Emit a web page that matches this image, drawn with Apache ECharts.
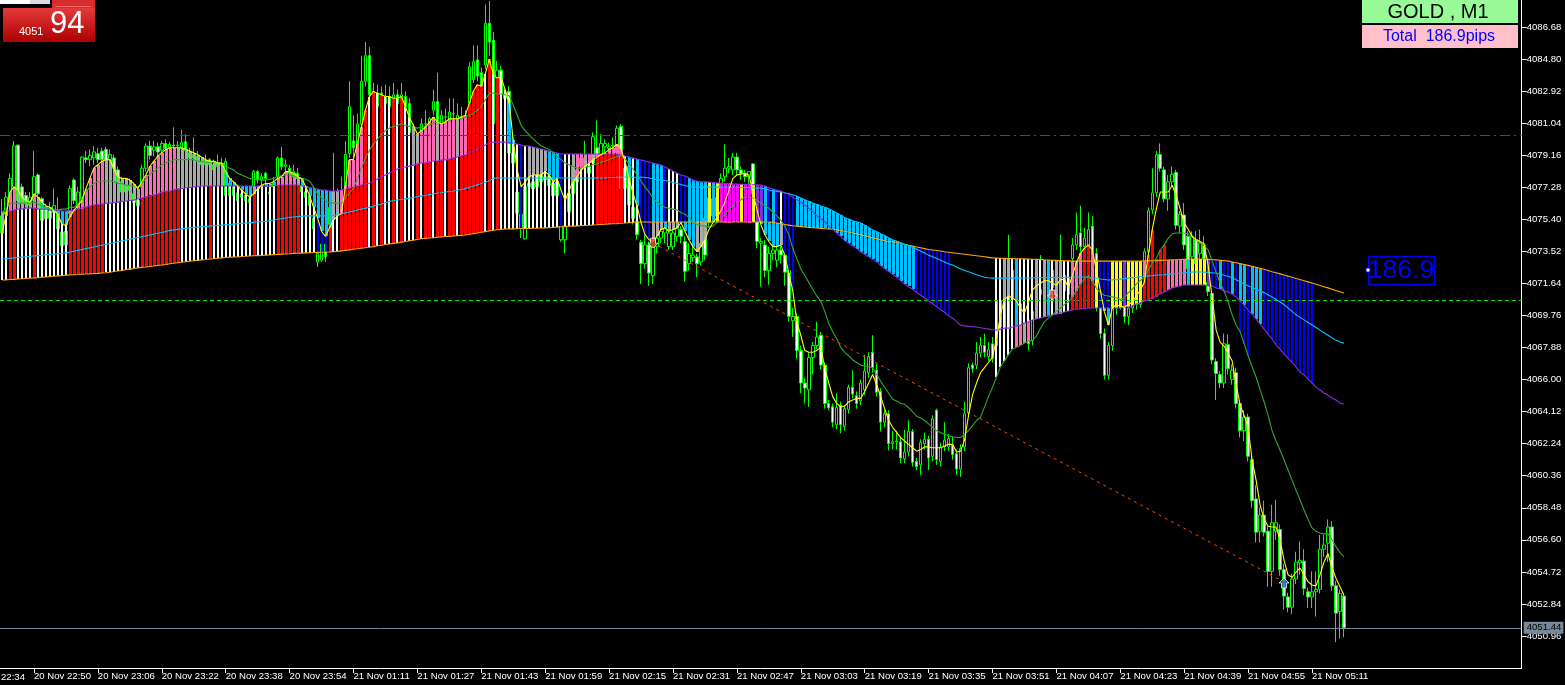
<!DOCTYPE html>
<html><head><meta charset="utf-8">
<style>html,body{margin:0;padding:0;background:#000;overflow:hidden}#c{width:1565px;height:685px}</style>
<script src="https://cdn.jsdelivr.net/npm/echarts@6/dist/echarts.min.js"></script>
</head><body><div id="c"></div>
<script>
const PRICE_BASE = 4000;
const tickLabels = ["20 Nov 22:50","20 Nov 23:06","20 Nov 23:22","20 Nov 23:38","20 Nov 23:54","21 Nov 01:11","21 Nov 01:27","21 Nov 01:43","21 Nov 01:59","21 Nov 02:15","21 Nov 02:31","21 Nov 02:47","21 Nov 03:03","21 Nov 03:19","21 Nov 03:35","21 Nov 03:51","21 Nov 04:07","21 Nov 04:23","21 Nov 04:39","21 Nov 04:55","21 Nov 05:11"];
const priceTicks = [4086.68,4084.80,4082.92,4081.04,4079.16,4077.28,4075.40,4073.52,4071.64,4069.76,4067.88,4066.00,4064.12,4062.24,4060.36,4058.48,4056.60,4054.72,4052.84,4050.96];
const resistanceLevel = 4080.34, supportLevel = 4070.66, bidPrice = 4051.44;

// candles: open, close, high, low (minus PRICE_BASE), 16 per row
const candles = [
[75.6,74.6,76.6,74.2],[75.7,76.7,77.0,75.0],[76.6,77.8,78.1,76.4],[77.3,79.7,80.0,77.0],[79.75,76.5,79.8,76.2],[77.3,76.3,77.5,76.0],[76.8,76.3,77.0,75.9],[76.2,76.7,77.0,75.9],[76.5,77.9,79.4,76.3],[78.0,76.9,78.1,76.7],[76.6,75.35,76.7,75.1],[76.1,75.45,76.3,75.3],[75.45,75.9,76.4,75.3],[75.8,76.2,77.2,75.6],[75.9,74.85,76.7,74.6],[74.65,73.85,75.0,73.7],
[74.7,73.9,74.9,73.8],[75.75,77.2,77.4,75.5],[77.7,76.5,77.8,76.3],[76.1,77.0,77.3,75.9],[76.5,79.05,79.1,76.3],[79.0,78.9,79.4,78.7],[78.9,79.15,79.5,78.5],[79.0,79.35,79.7,78.6],[79.25,78.9,79.6,78.7],[79.4,78.9,79.6,78.2],[79.5,78.9,79.65,78.5],[78.9,79.2,79.5,78.4],[79.0,78.4,79.2,77.6],[78.3,77.6,78.5,77.2],[77.6,77.0,77.9,76.6],[77.0,77.4,77.8,76.6],
[77.1,77.4,77.8,76.6],[76.9,76.4,77.2,76.0],[76.5,76.2,76.8,75.8],[77.3,78.4,78.6,77.1],[78.4,79.7,79.85,78.2],[79.7,79.15,80.0,78.9],[79.45,79.65,80.0,79.1],[79.65,79.35,79.9,79.0],[79.45,79.85,80.0,79.2],[79.85,79.55,80.1,79.3],[79.6,79.8,79.95,79.5],[79.75,79.7,80.8,79.5],[79.7,79.75,80.0,79.4],[79.55,79.9,80.65,79.3],[79.95,79.45,80.4,79.0],[79.3,79.0,79.6,78.7],
[79.0,79.2,80.2,78.7],[79.1,78.8,79.4,78.5],[78.8,78.6,79.0,78.3],[78.6,78.9,79.2,78.3],[78.9,78.6,79.0,78.1],[78.6,78.3,78.9,78.0],[78.7,78.5,79.2,78.2],[78.6,78.7,79.0,78.2],[76.8,78.8,79.0,76.6],[77.5,76.8,77.8,76.7],[76.8,77.3,77.6,76.5],[76.95,76.5,77.2,76.2],[76.7,76.9,77.3,76.4],[76.8,76.5,77.0,76.3],[76.6,76.4,76.8,76.1],[77.3,78.2,78.3,76.7],
[78.2,77.7,78.3,77.5],[77.7,77.9,78.1,77.3],[78.1,77.8,78.2,77.0],[77.0,76.9,77.4,76.6],[77.3,77.5,77.9,76.9],[77.9,79.0,79.1,77.6],[79.0,78.5,79.65,78.3],[78.5,78.6,78.9,78.2],[78.4,78.1,78.6,77.9],[77.9,78.2,78.6,77.6],[78.1,77.8,78.4,77.5],[77.4,77.0,77.7,76.7],[77.0,76.7,77.3,76.2],[76.8,76.2,77.0,75.6],[75.45,74.85,75.7,74.5],[72.9,73.4,74.0,72.6],
[73.0,73.95,75.0,72.9],[73.95,73.2,75.2,72.9],[75.1,76.1,76.4,74.0],[76.2,76.3,79.3,75.5],[75.6,76.3,77.2,75.2],[76.3,77.0,77.9,75.9],[77.1,79.2,80.0,76.9],[79.25,82.0,83.5,79.0],[80.0,79.6,81.5,79.0],[79.3,81.0,81.6,79.1],[81.0,83.5,85.0,80.5],[83.5,85.0,85.8,83.2],[85.0,82.7,85.5,82.4],[82.8,82.0,83.4,81.6],[82.0,82.8,83.3,81.4],[82.8,82.2,83.2,81.8],
[82.2,82.6,83.3,81.8],[82.6,82.0,83.2,81.6],[82.2,82.7,83.4,81.9],[82.7,82.2,83.0,81.7],[82.5,82.7,83.4,81.6],[82.6,82.0,82.9,81.5],[82.2,80.5,82.5,80.2],[80.5,80.2,81.0,79.8],[79.85,78.7,80.2,78.5],[79.3,81.0,81.3,79.0],[81.0,81.0,81.8,80.6],[81.0,81.3,81.4,80.5],[81.8,82.3,83.0,81.5],[82.3,81.0,84.0,80.8],[81.0,81.5,81.8,80.6],[81.4,81.4,81.9,80.9],
[81.3,81.7,82.5,81.0],[81.6,81.6,82.5,81.1],[81.2,81.5,82.2,80.9],[81.0,81.4,82.0,80.7],[81.1,81.5,81.8,80.9],[82.2,84.35,84.6,82.0],[83.6,84.65,85.6,83.4],[84.75,83.8,85.6,83.5],[84.0,82.5,84.3,82.2],[84.45,86.9,88.0,84.2],[86.9,85.8,88.2,85.0],[85.9,81.0,86.4,80.8],[83.7,84.15,84.7,83.0],[84.15,82.7,84.4,82.4],[82.7,82.5,83.1,82.0],[82.9,79.3,83.2,79.0],
[79.3,78.7,80.4,78.2],[75.75,77.0,77.5,75.5],[75.7,74.9,76.2,74.3],[74.25,77.3,77.8,74.2],[77.3,77.5,78.0,76.5],[77.6,77.2,78.1,76.7],[77.3,78.0,78.6,77.0],[78.0,77.6,78.4,77.2],[77.7,77.9,78.3,77.2],[77.9,77.4,78.5,76.9],[77.5,76.8,77.8,76.0],[76.8,77.6,78.4,76.4],[74.2,75.0,75.4,74.1],[74.2,75.0,76.0,73.4],[75.85,76.9,77.2,75.6],[76.9,78.5,78.7,76.7],
[78.3,77.6,78.6,77.3],[78.5,79.0,79.3,78.2],[78.5,79.0,80.0,78.2],[78.5,78.1,78.7,77.9],[78.7,80.25,80.5,78.5],[79.6,79.1,81.2,78.7],[79.1,79.85,80.4,78.9],[79.65,79.85,80.1,79.3],[79.55,79.65,79.9,79.2],[79.7,79.75,80.2,79.4],[79.3,80.75,80.9,79.0],[80.85,77.2,81.0,77.0],[77.2,78.4,78.7,77.0],[78.5,76.25,78.7,76.0],[76.1,75.45,76.3,75.1],[75.25,74.5,75.4,74.2],
[74.05,72.8,74.2,71.6],[72.8,73.9,74.5,72.5],[73.9,72.25,74.1,71.5],[72.1,73.8,74.2,71.6],[73.8,74.3,74.8,73.4],[74.3,74.7,75.0,74.0],[74.6,74.85,75.0,74.0],[73.8,74.6,74.85,73.6],[73.8,74.6,74.85,73.6],[74.4,74.85,75.0,74.1],[74.8,74.4,75.0,74.0],[74.1,72.35,74.4,71.75],[72.8,73.4,74.0,72.4],[73.15,73.3,73.9,72.9],[73.2,72.8,73.4,72.0],[72.9,74.0,74.3,72.7],
[75.45,73.3,75.7,73.0],[75.2,76.65,76.9,74.9],[76.6,75.6,76.9,75.3],[75.6,76.7,77.1,75.4],[77.2,77.8,78.1,77.0],[77.9,78.4,79.8,77.6],[78.4,78.5,79.0,78.1],[78.3,79.05,79.3,78.0],[79.05,78.3,79.3,78.0],[78.3,78.1,78.5,77.7],[78.1,77.9,78.3,77.6],[77.9,78.2,78.2,76.9],[78.65,76.9,78.7,76.4],[75.25,74.1,75.5,73.7],[74.0,74.1,74.3,71.45],[73.9,72.4,74.2,72.0],
[72.4,73.4,73.8,71.55],[73.4,73.6,74.0,73.0],[73.0,73.6,73.9,72.6],[73.6,73.3,74.0,72.8],[73.3,72.3,73.5,71.5],[72.4,69.7,72.7,69.4],[69.45,69.7,70.2,68.5],[69.7,67.7,69.9,67.2],[67.7,65.8,68.0,65.2],[65.8,65.5,66.1,64.6],[65.4,67.3,67.6,64.4],[67.3,68.0,68.2,66.3],[68.0,68.5,69.4,67.8],[68.6,66.85,68.8,66.6],[66.85,64.6,67.0,64.3],[64.6,64.35,64.8,64.2],
[64.4,63.5,64.6,63.2],[63.35,64.35,65.2,63.1],[64.5,63.35,64.7,62.85],[63.25,64.3,64.5,63.0],[64.25,65.55,65.7,64.0],[65.55,65.15,66.55,64.9],[65.05,64.6,65.3,64.3],[64.75,65.8,66.0,64.5],[65.4,66.5,67.45,65.1],[66.4,67.35,67.6,66.1],[67.6,66.7,68.6,66.4],[66.55,65.25,66.95,65.0],[65.3,63.5,65.5,62.95],[63.5,64.0,64.2,63.2],[64.0,62.25,64.2,61.85],[62.25,62.35,63.0,61.9],
[62.35,62.4,63.0,61.9],[62.35,61.4,62.6,61.1],[61.35,61.75,63.05,61.1],[61.75,62.95,63.6,61.5],[62.95,61.15,63.1,60.9],[61.2,60.9,61.4,60.7],[61.0,62.3,62.5,60.4],[62.25,62.5,62.9,61.9],[62.5,61.4,62.7,60.7],[61.5,63.7,63.9,61.2],[64.2,61.3,64.3,61.0],[61.2,62.05,62.3,60.9],[62.05,62.45,63.5,61.8],[62.05,62.55,62.8,61.8],[62.15,61.6,62.65,61.3],[61.65,60.75,61.9,60.4],
[60.75,61.95,62.2,60.3],[62.05,64.0,64.7,61.8],[64.05,66.7,66.95,63.8],[66.85,66.65,67.0,66.4],[66.85,67.55,68.2,66.6],[67.55,68.0,68.5,67.3],[68.0,67.6,68.7,67.3],[67.35,67.75,68.2,67.1],[68.1,67.25,68.5,67.0],[68.0,70.6,70.9,67.8],[70.6,69.1,70.9,68.8],[69.5,71.0,71.4,69.2],[71.05,72.6,74.5,70.8],[72.4,70.8,72.8,70.5],[70.8,71.2,72.0,70.5],[70.45,68.7,70.8,68.4],
[68.7,69.2,70.0,68.3],[69.5,68.1,69.8,67.7],[68.3,70.0,70.4,68.0],[70.0,71.0,71.6,69.7],[71.0,71.3,73.3,70.6],[71.3,70.8,71.8,70.4],[70.8,72.4,72.8,70.5],[72.4,71.4,72.8,71.0],[71.4,71.7,72.3,71.0],[71.7,72.1,74.5,71.3],[72.1,71.2,72.4,71.0],[71.0,72.0,72.3,70.6],[73.1,73.9,74.3,72.8],[73.9,74.5,75.8,73.6],[74.6,73.8,76.2,73.5],[73.8,74.3,74.9,73.5],
[73.4,74.8,75.8,73.1],[75.0,73.4,75.6,73.1],[73.4,70.3,73.7,70.0],[70.2,68.7,70.5,68.4],[68.7,66.25,69.0,66.0],[66.25,68.0,68.2,66.0],[68.0,70.2,70.5,67.7],[70.2,70.8,71.5,69.8],[70.8,70.4,71.2,70.1],[70.3,69.7,70.6,69.3],[69.7,70.2,70.6,69.2],[70.2,70.8,71.2,69.9],[70.8,70.4,71.2,70.1],[70.4,72.0,72.4,70.2],[72.6,73.5,73.7,72.3],[73.5,75.9,76.1,73.2],
[75.95,76.95,78.4,75.7],[76.95,79.2,79.4,76.7],[79.2,78.4,79.85,78.2],[78.3,76.6,78.5,76.4],[76.6,77.6,78.0,75.9],[77.6,78.05,78.5,77.3],[78.15,75.05,78.3,74.8],[75.0,75.7,75.9,74.6],[75.65,73.9,76.35,73.6],[74.4,72.5,74.7,71.8],[73.2,74.4,74.7,72.5],[74.2,72.8,74.7,72.3],[73.4,74.0,74.8,73.0],[73.9,73.1,74.4,72.6],[71.7,71.15,72.3,70.9],[71.05,67.15,71.2,66.9],
[67.05,66.35,67.25,64.8],[66.3,65.8,66.5,65.5],[65.8,68.1,68.7,65.5],[68.05,66.65,68.65,66.3],[66.0,66.55,66.9,65.7],[66.4,64.6,66.7,64.3],[64.6,63.0,64.8,62.6],[63.0,63.8,64.2,62.4],[63.8,61.5,64.0,61.2],[61.3,58.9,61.5,58.5],[59.0,57.05,59.8,56.45],[57.1,58.05,58.5,56.45],[58.05,57.05,58.9,56.8],[57.1,54.75,57.4,53.85],[54.75,57.6,58.65,53.85],[57.1,57.6,58.95,56.6],
[57.2,54.85,57.5,54.5],[54.85,53.3,55.2,52.5],[53.25,52.65,53.5,52.35],[52.65,54.3,54.6,52.25],[54.3,55.3,55.9,54.0],[55.25,55.4,56.5,54.55],[55.35,53.75,56.05,53.35],[53.55,53.25,53.8,52.6],[53.25,53.55,54.75,52.6],[53.55,53.7,54.75,52.1],[53.7,56.05,56.9,53.45],[56.05,56.3,56.9,55.6],[56.4,57.35,57.8,55.3],[57.35,53.9,57.7,53.6],[53.9,52.3,54.2,50.6],[52.4,53.45,53.7,50.8],
[53.3,51.44,53.5,50.9]
];

const fastMA = [
74.6,75.6,77.0,77.3,77.1,76.7,76.5,76.4,76.9,76.7,76.4,76.2,76.1,75.9,75.7,75.1,
75.06,75.53,75.94,76.2,76.5,77.2,77.8,78.4,78.6,78.8,78.9,78.9,78.4,77.9,77.8,77.8,
77.7,77.5,77.2,77.6,78.0,78.5,78.8,79.1,79.3,79.5,79.6,79.6,79.6,79.6,79.5,79.4,
79.3,79.2,79.05,78.9,78.8,78.8,78.7,78.7,78.2,77.8,77.6,77.35,77.1,76.9,76.7,76.9,
77.2,77.4,77.5,77.5,77.6,77.8,77.9,78.2,78.2,78.1,77.9,77.8,77.35,76.8,76.1,75.5,
74.7,74.4,74.9,75.35,75.6,75.75,77.4,78.9,78.9,79.9,80.8,81.8,82.6,82.9,82.8,82.7,
82.6,82.6,82.5,82.5,82.6,82.0,81.4,80.9,80.4,80.6,80.8,81.1,81.4,81.1,81.0,81.1,
81.3,81.3,81.3,81.4,81.5,82.2,82.9,83.3,83.2,83.9,84.8,83.9,83.7,83.7,83.0,82.2,
80.05,78.3,77.3,77.6,77.9,78.0,78.0,78.0,78.2,78.0,77.6,77.8,77.1,76.5,77.1,77.6,
77.9,78.3,78.5,78.7,78.9,79.05,79.2,79.3,79.5,79.6,79.8,79.5,78.8,77.8,76.9,76.2,
75.2,74.5,74.2,74.1,74.4,74.8,74.9,74.7,74.8,74.9,75.2,74.7,74.2,73.8,73.5,73.8,
74.2,74.8,75.2,75.5,75.9,76.4,77.1,77.8,78.0,78.05,78.1,78.0,77.0,76.0,75.1,74.5,
74.1,73.8,73.8,73.9,73.3,72.25,71.2,69.4,68.6,67.7,67.6,67.6,67.7,67.9,66.7,65.8,
65.0,64.6,64.4,64.45,64.7,64.8,64.9,64.9,65.3,65.8,66.3,65.7,65.0,64.3,63.6,63.2,
62.9,62.6,62.4,62.2,62.0,61.8,61.9,62.05,62.05,62.0,62.0,62.0,62.1,62.2,62.2,61.75,
61.8,62.45,63.9,65.1,65.8,66.4,66.7,67.0,67.3,68.4,69.8,70.7,70.9,70.8,70.6,70.2,
69.9,70.55,71.25,71.5,71.65,71.8,71.8,71.65,71.55,71.85,71.9,71.4,72.1,72.85,73.4,73.7,
73.9,73.6,72.4,71.25,70.0,69.2,70.2,70.4,70.3,70.25,70.4,70.55,70.9,71.25,71.7,73.3,
74.8,76.0,77.0,77.0,77.0,77.4,76.8,76.0,75.2,74.8,74.4,74.2,74.1,73.95,72.7,70.8,
68.9,68.2,67.95,67.55,67.1,65.7,64.5,63.9,63.2,61.3,60.1,58.65,57.8,57.4,57.35,57.35,
56.6,55.4,54.55,54.4,54.7,54.95,54.55,54.15,53.95,53.9,54.55,55.3,55.8,54.95,54.35,53.85,
53.35];

const mediumMA = [
75.8,76.0,76.35,76.35,76.35,76.35,76.35,76.35,76.4,76.3,76.2,76.1,76.0,75.95,75.95,76.0,
76.0,76.1,76.1,76.3,76.65,77.0,77.3,77.5,77.6,77.65,77.65,77.65,77.6,77.5,77.5,77.4,
77.4,77.35,77.3,77.5,77.8,78.05,78.2,78.4,78.6,78.7,78.8,78.9,78.9,78.9,78.9,78.9,
78.9,78.8,78.8,78.75,78.75,78.75,78.75,78.7,78.5,78.4,78.3,78.1,78.0,77.9,77.8,77.75,
77.75,77.7,77.7,77.75,77.8,77.9,77.95,78.0,78.0,77.95,77.9,77.8,77.75,77.65,77.3,76.9,
76.65,76.5,76.35,76.35,76.35,76.35,76.65,76.95,77.2,77.8,78.4,79.0,79.45,79.8,80.1,80.35,
80.6,80.75,80.85,80.9,81.0,80.9,80.85,80.8,80.75,80.8,80.85,80.9,81.05,81.1,81.15,81.15,
81.2,81.3,81.3,81.3,81.4,81.5,81.6,81.8,82.0,82.4,82.8,82.8,82.75,82.75,82.7,82.65,
82.1,81.5,80.9,80.6,80.35,80.1,79.9,79.7,79.6,79.5,79.3,79.1,78.9,78.7,78.6,78.5,
78.4,78.4,78.45,78.5,78.6,78.65,78.75,78.8,78.9,79.0,79.1,79.15,78.95,78.65,78.35,78.0,
77.65,77.3,77.0,76.65,76.4,76.25,76.1,76.05,76.0,75.95,75.8,75.7,75.5,75.25,75.1,75.05,
75.0,74.95,75.0,75.2,75.4,75.7,75.95,76.2,76.35,76.55,76.7,76.7,76.65,76.55,76.35,76.2,
76.05,75.8,75.6,75.35,75.0,74.5,73.7,73.1,72.5,72.1,71.7,71.3,70.9,70.6,70.0,69.3,
68.8,68.4,67.9,67.6,67.4,67.15,67.0,66.85,66.8,66.75,66.7,66.3,65.9,65.55,65.2,64.85,
64.75,64.6,64.55,64.35,64.1,63.85,63.75,63.6,63.4,63.2,63.0,62.9,62.8,62.7,62.65,62.6,
62.6,62.8,63.0,63.3,63.6,63.8,64.4,65.0,65.55,66.15,66.75,67.1,67.45,67.8,67.9,68.0,
68.15,68.25,68.3,68.55,69.0,69.4,69.6,69.8,70.0,70.2,70.4,70.55,70.85,71.2,71.6,71.9,
72.1,71.8,71.35,71.1,70.95,70.9,70.85,70.8,70.7,70.8,71.1,71.3,71.6,71.8,72.0,72.4,
72.85,73.1,73.6,73.9,74.3,74.55,74.6,74.6,74.6,74.55,74.35,74.2,74.0,73.85,73.6,72.95,
72.3,71.65,71.2,70.55,69.8,69.2,68.8,68.1,67.4,66.75,66.15,65.4,64.7,63.9,63.0,62.4,
61.85,61.3,60.7,60.1,59.5,58.95,58.35,57.8,57.3,57.1,57.0,56.95,56.95,56.6,56.2,55.85,
55.6];

const purpleMA = [
75.83,75.89,75.89,75.94,76.0,76.0,76.06,76.06,76.06,76.0,76.0,76.0,75.94,75.94,75.94,75.89,
75.89,75.92,75.94,76.0,76.06,76.12,76.18,76.24,76.27,76.3,76.33,76.35,76.38,76.41,76.44,76.47,
76.5,76.53,76.59,76.65,76.71,76.77,76.82,76.88,77.0,77.03,77.06,77.12,77.18,77.21,77.24,77.27,
77.3,77.32,77.35,77.35,77.35,77.35,77.35,77.35,77.35,77.35,77.35,77.35,77.35,77.35,77.35,77.35,
77.35,77.35,77.35,77.35,77.38,77.38,77.41,77.41,77.41,77.41,77.41,77.35,77.29,77.26,77.24,77.18,
77.12,77.12,77.06,77.06,77.06,77.12,77.18,77.24,77.29,77.35,77.41,77.47,77.53,77.64,77.76,77.88,
78.0,78.12,78.23,78.35,78.41,78.47,78.52,78.58,78.64,78.7,78.7,78.76,78.82,78.82,78.88,78.88,
78.93,78.99,79.05,79.11,79.17,79.29,79.4,79.52,79.64,79.76,79.87,79.93,79.93,79.93,79.93,79.87,
79.87,79.81,79.76,79.7,79.7,79.64,79.58,79.52,79.46,79.4,79.35,79.29,79.23,79.23,79.23,79.23,
79.23,79.23,79.23,79.23,79.23,79.23,79.23,79.23,79.23,79.23,79.23,79.17,79.11,79.05,78.99,78.93,
78.88,78.82,78.76,78.7,78.64,78.58,78.47,78.35,78.23,78.12,78.0,77.94,77.82,77.7,77.64,77.6,
77.6,77.58,77.56,77.54,77.52,77.5,77.5,77.48,77.47,77.46,77.45,77.44,77.43,77.42,77.41,77.35,
77.24,77.18,77.12,77.06,76.95,76.85,76.7,76.55,76.4,76.22,76.05,75.85,75.6,75.45,75.25,75.0,
74.8,74.6,74.4,74.15,74.0,73.85,73.68,73.5,73.35,73.2,73.05,72.9,72.7,72.5,72.35,72.18,
72.0,71.8,71.6,71.45,71.3,71.12,70.95,70.8,70.62,70.45,70.28,70.1,69.95,69.75,69.6,69.4,
69.2,69.15,69.12,69.1,69.08,69.04,69.0,68.96,68.92,68.9,68.96,69.02,69.02,69.08,69.14,69.2,
69.32,69.37,69.49,69.55,69.61,69.67,69.73,69.79,69.84,69.9,69.96,70.02,70.08,70.14,70.14,70.17,
70.2,70.2,70.2,70.2,70.2,70.2,70.2,70.2,70.2,70.26,70.26,70.31,70.43,70.49,70.61,70.67,
70.78,70.9,71.02,71.13,71.25,71.37,71.43,71.49,71.55,71.55,71.55,71.55,71.55,71.55,71.49,71.49,
71.37,71.31,71.19,71.13,71.02,70.84,70.61,70.37,70.08,69.84,69.55,69.26,68.96,68.67,68.38,68.03,
67.79,67.5,67.26,67.03,66.74,66.44,66.27,66.03,65.8,65.56,65.39,65.21,65.09,64.92,64.8,64.62,
64.57];

const cyanMA = [
73.07,73.09,73.12,73.14,73.16,73.18,73.2,73.23,73.25,73.27,73.29,73.32,73.34,73.36,73.38,73.41,
73.43,73.48,73.53,73.58,73.63,73.68,73.73,73.78,73.83,73.88,73.93,73.98,74.03,74.08,74.13,74.18,
74.23,74.28,74.33,74.38,74.43,74.48,74.53,74.58,74.63,74.68,74.75,74.78,74.81,74.84,74.87,74.9,
74.92,74.94,74.96,74.98,75.0,75.02,75.04,75.06,75.08,75.1,75.12,75.14,75.16,75.18,75.2,75.22,
75.24,75.26,75.28,75.32,75.36,75.4,75.44,75.48,75.52,75.54,75.56,75.58,75.6,75.6,75.6,75.6,
75.6,75.6,75.6,75.63,75.68,75.73,75.78,75.83,75.88,75.95,76.0,76.05,76.1,76.17,76.24,76.3,
76.37,76.44,76.5,76.53,76.56,76.6,76.64,76.68,76.72,76.76,76.8,76.85,76.9,76.93,76.96,77.0,
77.03,77.06,77.1,77.15,77.2,77.27,77.35,77.42,77.5,77.57,77.65,77.8,77.82,77.82,77.82,77.82,
77.82,77.82,77.82,77.82,77.82,77.82,77.82,77.82,77.82,77.82,77.82,77.82,77.82,77.82,77.82,77.82,
77.82,77.82,77.82,77.82,77.82,77.82,77.82,77.82,77.85,77.85,77.87,77.87,77.88,77.88,77.88,77.85,
77.88,77.85,77.82,77.78,77.74,77.7,77.68,77.62,77.56,77.5,77.44,77.38,77.32,77.3,77.3,77.29,
77.29,77.29,77.29,77.29,77.29,77.29,77.29,77.29,77.28,77.27,77.26,77.25,77.24,77.23,77.22,77.2,
77.12,77.08,77.04,77.0,76.95,76.9,76.84,76.75,76.65,76.55,76.45,76.35,76.27,76.18,76.1,76.02,
75.9,75.77,75.64,75.5,75.42,75.32,75.25,75.18,75.05,74.92,74.78,74.68,74.55,74.45,74.32,74.2,
74.12,74.02,73.93,73.84,73.76,73.65,73.54,73.42,73.3,73.2,73.1,73.0,72.9,72.8,72.72,72.6,
72.48,72.4,72.32,72.24,72.15,72.07,72.0,71.97,71.95,71.95,71.95,71.95,71.95,71.95,71.95,71.95,
71.96,71.96,71.97,71.97,71.97,71.98,71.98,71.98,71.99,71.99,72.0,72.0,72.0,72.01,72.02,72.02,
72.0,71.97,71.94,71.9,71.87,71.84,71.85,71.86,71.89,71.92,71.95,71.98,72.0,72.03,72.06,72.08,
72.1,72.13,72.13,72.15,72.18,72.2,72.22,72.24,72.26,72.28,72.3,72.31,72.31,72.3,72.28,72.26,
72.25,72.2,72.12,72.05,71.98,71.85,71.72,71.6,71.5,71.4,71.3,71.2,71.1,70.97,70.84,70.7,
70.55,70.4,70.2,70.0,69.8,69.65,69.5,69.35,69.2,69.05,68.9,68.75,68.6,68.45,68.3,68.2,
68.14];

const orangeMA = [
71.84,71.85,71.87,71.88,71.9,71.91,71.93,71.95,71.96,71.98,72.0,72.02,72.04,72.06,72.08,72.1,
72.12,72.14,72.15,72.16,72.18,72.19,72.2,72.22,72.23,72.25,72.27,72.3,72.34,72.37,72.4,72.44,
72.48,72.52,72.55,72.58,72.6,72.63,72.66,72.69,72.72,72.75,72.79,72.82,72.85,72.88,72.91,72.95,
72.97,73.0,73.02,73.04,73.07,73.09,73.12,73.14,73.16,73.18,73.19,73.2,73.22,73.23,73.25,73.26,
73.27,73.28,73.3,73.31,73.33,73.34,73.36,73.37,73.38,73.4,73.41,73.42,73.43,73.44,73.45,73.46,
73.47,73.48,73.48,73.5,73.52,73.55,73.58,73.61,73.64,73.67,73.7,73.73,73.76,73.8,73.85,73.88,
73.92,73.95,73.99,74.02,74.06,74.1,74.14,74.18,74.22,74.26,74.28,74.3,74.32,74.35,74.37,74.39,
74.4,74.42,74.44,74.46,74.48,74.52,74.56,74.6,74.64,74.68,74.72,74.76,74.79,74.81,74.83,74.84,
74.84,74.85,74.86,74.86,74.87,74.88,74.88,74.89,74.9,74.91,74.93,74.94,74.96,74.97,74.99,75.0,
75.01,75.03,75.04,75.05,75.07,75.08,75.1,75.11,75.13,75.14,75.15,75.17,75.18,75.2,75.22,75.24,
75.24,75.24,75.24,75.24,75.24,75.24,75.24,75.24,75.24,75.24,75.24,75.24,75.24,75.24,75.24,75.24,
75.24,75.24,75.24,75.24,75.24,75.24,75.24,75.24,75.24,75.24,75.24,75.24,75.24,75.24,75.24,75.24,
75.24,75.22,75.18,75.14,75.1,75.06,75.02,75.0,74.97,74.95,74.93,74.91,74.89,74.87,74.85,74.83,
74.82,74.78,74.74,74.7,74.66,74.6,74.55,74.5,74.44,74.38,74.32,74.26,74.2,74.14,74.1,74.08,
74.04,74.0,73.94,73.88,73.83,73.78,73.73,73.68,73.63,73.6,73.57,73.54,73.5,73.47,73.44,73.41,
73.38,73.35,73.32,73.29,73.26,73.23,73.2,73.17,73.14,73.13,73.12,73.11,73.1,73.1,73.09,73.09,
73.08,73.07,73.06,73.05,73.04,73.02,73.01,73.0,72.99,72.98,72.97,72.96,72.95,72.95,72.95,72.95,
72.95,72.95,72.95,72.95,72.95,72.95,72.95,72.95,72.95,72.95,72.95,72.95,72.95,72.95,72.96,72.96,
72.97,72.98,72.99,73.0,73.01,73.02,73.03,73.04,73.05,73.06,73.07,73.07,73.07,73.06,73.05,73.04,
73.02,73.0,72.98,72.95,72.9,72.85,72.8,72.75,72.7,72.64,72.59,72.53,72.47,72.4,72.33,72.27,
72.2,72.13,72.07,72.0,71.93,71.87,71.8,71.73,71.66,71.59,71.52,71.45,71.38,71.3,71.22,71.15,
71.08];

// band states per bar (16 per row): which regime the indicator shows at that bar
const outerBandStates = ["wwrrwwwwrwwwwwww","wrrrrrrrrrwwwwww","wwwrrrrrrrrrrwww","wwwwrwwwwwwwwwwr","wwwwwrrrrrrwwwwb","bbrwwrrrrrrrwrwr","wwrwrwwwrwrrwrrw","rrwrrrrrrwrwrwww","wwbwwwwwwwwwbwww","wwwwwrrrrrrrwwww","bbbcccbwwwbbcccc","cycymmmmmymmyvvc","bcbwbbbccccccccc","cccccccccccccccc","cccccbbbbbbbbb..",".........wwggwcw","wwwgwgcwggwwpppp","ppybbbyyyvyyyypp","pppppppppcyyyyvb","bcbbcbccbcccbbbb","bbbbbbbbb.......","."].join("");
const fastBandStates = ["ggppggggpgcccccc","cpppppppppgggggg","gggpppppppppgggg","ggggggggcccccccg","gccgcpppppgccccc","cccggpppppprwrwr","wwrwrwwggppppgpp","ppgpprrrrwrwrwwc","cwbwgggggcccbwwg","ppgpgpppppppwcwc","BBBGGGCGGGCCCCGG","G.............CC","CCCGBBB.........","................","................","...........ww...","..............pr","rp..ccg........r","r...............","................","................","."].join("");
const mediumBandStates = ["................","................","................","................","................","................","................","................","................","................","................","................","................","................","................",".........wwwwwpp","gp..........rrrr","rr............rr","rrrr............","......bbb.......","................","."].join("");

const downArrows = [[163,74.0],[263,70.96]];
const upArrows = [[321,54.07]];
const trendFrom = [163,74.01], trendTo = [321,54.13];

const palette = {r:'#ff0000',w:'#ffffff',b:'#0000ff',c:'#00bfff',y:'#ffff00',m:'#ff00ff',p:'#ff69b4',g:'#a9a9a9',v:'#8a2be2'};
const FONT = '"Liberation Sans", Arial, sans-serif';
const N = candles.length;
const abs = v => +(PRICE_BASE + v).toFixed(2);
for (const a of [fastMA,mediumMA,purpleMA,cyanMA,orangeMA]) if (a.length!==N) throw new Error('len '+a.length+' vs '+N);
for (const s of [outerBandStates,fastBandStates,mediumBandStates]) if (s.length!==N) throw new Error('state len '+s.length);

const TOTAL = 381;
const categories = Array.from({length:TOTAL},(_,i)=> (i>=8 && (i-8)%16===0 && tickLabels[(i-8)/16]) || '');
const isTick = i => i>=8 && (i-8)%16===0 && (i-8)/16<tickLabels.length;

function outerBand(){
  const out=[];
  for(let i=0;i<N;i++){
    const s=outerBandStates[i]; if(s==='.') continue;
    const trio=[orangeMA[i],cyanMA[i],purpleMA[i]];
    out.push([i,abs(Math.max(...trio)),abs(Math.min(...trio)),s]);
  }
  return out;
}
function band(states, fromArr, toArr){
  const out=[];
  for(let i=0;i<N;i++){
    const s=states[i]; if(s==='.') continue;
    const lower=s.toLowerCase();
    const start = s!==lower ? orangeMA[i] : fromArr[i];
    out.push([i,abs(start),abs(toArr[i]),lower]);
  }
  return out;
}
const renderBar=(params,api)=>{
  const a=api.coord([api.value(0),api.value(1)]), b=api.coord([api.value(0),api.value(2)]);
  const top=Math.min(a[1],b[1]), h=Math.abs(a[1]-b[1]);
  const code=api.value(3), w=(code==='w'||code==='b')?2:3;
  return {type:'rect',shape:{x:Math.round(a[0])-1,y:Math.round(top),width:w,height:Math.max(1,Math.round(h))},style:{fill:palette[code]},silent:true};
};
const barSeries=(name,data,z)=>({name,type:'custom',renderItem:renderBar,data,z,silent:true,clip:true,
  dimensions:['x','a','b',{name:'s',type:'ordinal'}],encode:{x:0,y:[1,2]},animation:false});
const lineSeries=(name,arr,color,z,extra)=>Object.assign({name,type:'line',data:arr.map(abs),showSymbol:false,symbol:'none',z,silent:true,animation:false,
  lineStyle:{color,width:1.1},itemStyle:{color}},extra||{});

const arrowDown='path://M4,0 L12,0 L12,8 L16,8 L8,16 L0,8 L4,8 Z';
const arrowUp='path://M8,0 L16,8 L12,8 L12,16 L4,16 L4,8 L0,8 Z';
const trend=new Array(N).fill(null); trend[trendFrom[0]]=abs(trendFrom[1]); trend[trendTo[0]]=abs(trendTo[1]);

const option={
  backgroundColor:'#000',animation:false,
  grid:{left:-1.7,top:0,width:1523.4,height:668,containLabel:false},
  xAxis:{type:'category',data:categories,boundaryGap:true,
    axisLine:{show:true,lineStyle:{color:'#fff',width:1}},
    axisTick:{show:true,alignWithLabel:true,interval:(i)=>isTick(i),length:5,lineStyle:{color:'#fff'}},
    axisLabel:{show:true,interval:(i)=>isTick(i),align:'left',color:'#fff',fontSize:9.6,fontFamily:FONT,margin:3,hideOverlap:false},
    splitLine:{show:false}},
  yAxis:{type:'value',position:'right',min:4049.083,max:4088.264,scale:true,
    axisLine:{show:true,lineStyle:{color:'#fff',width:1}},
    axisTick:{show:true,length:5,lineStyle:{color:'#fff'},customValues:priceTicks},
    axisLabel:{show:true,color:'#fff',fontSize:9.6,fontFamily:FONT,margin:5,customValues:priceTicks,formatter:v=>(+v).toFixed(2)},
    splitLine:{show:false}},
  series:[
    {name:'GOLD M1',type:'candlestick',data:candles.map(c=>[abs(c[0]),abs(c[1]),abs(c[3]),abs(c[2])]),barWidth:3,z:2,silent:true,animation:false,
      itemStyle:{color:'#000',color0:'#fff',borderColor:'#00ff00',borderColor0:'#00ff00',borderWidth:1}},
    barSeries('outer band',outerBand(),3),
    barSeries('fast band',band(fastBandStates,purpleMA,fastMA),4),
    barSeries('medium band',band(mediumBandStates,purpleMA,mediumMA),5),
    lineSeries('slow orange',orangeMA,'#ffa500',6,{markLine:{silent:true,symbol:'none',animation:false,data:[
      {yAxis:resistanceLevel,lineStyle:{color:'#ff0000',type:[10,4,2,4],width:1},label:{show:false}},
      {yAxis:supportLevel,lineStyle:{color:'#00e000',type:[4,3],width:1},label:{show:false}},
      {yAxis:bidPrice,lineStyle:{color:'#778899',type:'solid',width:1},label:{show:true,position:'end',distance:2,formatter:()=>bidPrice.toFixed(2),color:'#000',backgroundColor:'#778899',fontSize:9.6,fontFamily:FONT,padding:[1,2,1,3]}}
    ]}}),
    lineSeries('cyan',cyanMA,'#00bfff',6),
    lineSeries('purple',purpleMA,'#8a2be2',6),
    lineSeries('medium green',mediumMA,'#32a832',7),
    lineSeries('fast yellow',fastMA,'#ffff00',8),
    {name:'trend',type:'line',data:trend,connectNulls:true,showSymbol:false,symbol:'none',z:7,silent:true,animation:false,lineStyle:{color:'#ff4500',width:1,type:[3,4]}},
    {name:'sell marks',type:'scatter',data:downArrows.map(p=>[p[0],abs(p[1])]),symbol:arrowDown,symbolSize:10,z:9,silent:true,animation:false,
      itemStyle:{color:'#e8402a',borderColor:'#fff',borderWidth:1}},
    {name:'buy marks',type:'scatter',data:upArrows.map(p=>[p[0],abs(p[1])]),symbol:arrowUp,symbolSize:10,z:9,silent:true,animation:false,
      itemStyle:{color:'#1f5fa5',borderColor:'#fff',borderWidth:1}}
  ],
  graphic:[
    {type:'text',x:1,y:672,z:20,style:{text:'22:34',fill:'#fff',font:'9.6px '+FONT}},
    {type:'rect',shape:{x:0,y:0,width:30,height:4},style:{fill:'#ffffff'},z:20},
    {type:'rect',shape:{x:30,y:0,width:20,height:4},style:{fill:'#dcdcdc'},z:20},
    {type:'rect',shape:{x:52,y:0,width:43,height:9},style:{fill:'#d92c2c'},z:20},
    {type:'rect',shape:{x:55,y:6,width:36,height:1},style:{fill:'#f06a6a'},z:21},
    {type:'rect',shape:{x:3,y:8,width:92,height:34},z:20,style:{fill:new echarts.graphic.LinearGradient(0,0,0,1,[{offset:0,color:'#e53a3a'},{offset:1,color:'#ad0000'}])}},
    {type:'text',x:19,y:26,z:22,style:{text:'4051',fill:'#fff',font:'11px '+FONT}},
    {type:'text',x:50,y:9,z:22,style:{text:'94',fill:'#fff',font:'31px '+FONT}},
    {type:'rect',shape:{x:1362,y:0,width:156,height:23},style:{fill:'#98fb98'},z:20},
    {type:'text',x:1438,y:12,z:22,style:{text:'GOLD , M1',fill:'#000',font:'20px '+FONT,align:'center',verticalAlign:'middle'}},
    {type:'rect',shape:{x:1362,y:25,width:156,height:23},style:{fill:'#ffc0cb'},z:20},
    {type:'text',x:1439,y:37,z:22,style:{text:'Total  186.9pips',fill:'#0000ff',font:'16px '+FONT,align:'center',verticalAlign:'middle'}},
    {type:'rect',shape:{x:1368.5,y:256.5,width:66,height:28},style:{fill:'none',stroke:'#0000ff',lineWidth:1},z:20},
    {type:'text',x:1401,y:271,z:22,style:{text:'186.9',fill:'#0000ff',font:'26.5px '+FONT,align:'center',verticalAlign:'middle'}},
    {type:'rect',shape:{x:1366,y:268,width:4,height:4},style:{fill:'#fff',stroke:'#0000ff',lineWidth:1},z:23}
  ]
};
echarts.init(document.getElementById('c'),null,{renderer:'canvas',devicePixelRatio:1}).setOption(option);
</script></body></html>
